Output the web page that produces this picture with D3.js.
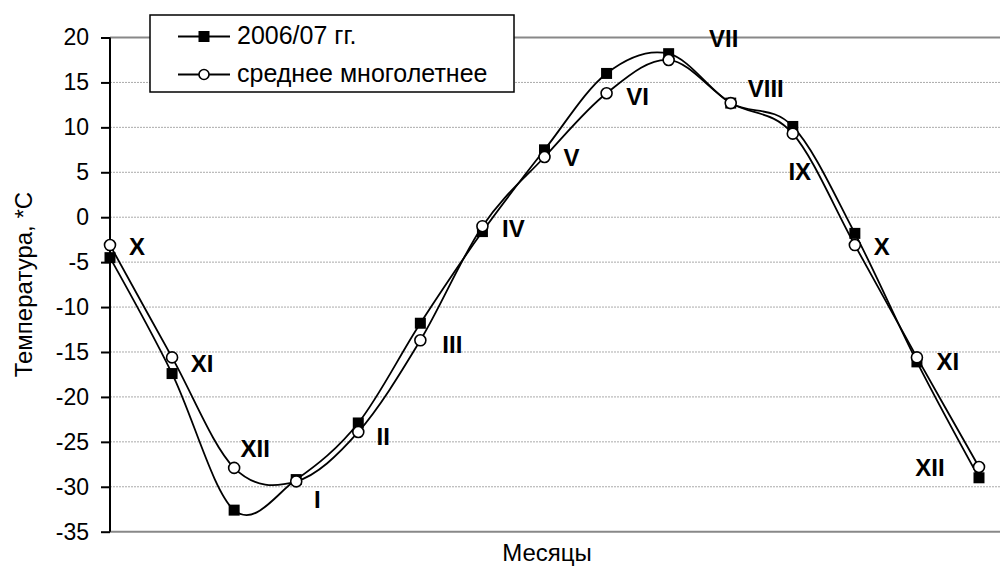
<!DOCTYPE html>
<html>
<head>
<meta charset="utf-8">
<script src="https://cdn.jsdelivr.net/npm/d3@7"></script>
<style>
  body { margin: 0; background: #fff; }
  svg { display: block; font-family: Arial, "Liberation Sans", sans-serif; }
</style>
</head>
<body>
<svg id="chart" width="1000" height="569"></svg>
<script>
// months (hydrological year, Oct -> Dec of next year)
const months = ['X', 'XI', 'XII', 'I', 'II', 'III', 'IV', 'V', 'VI', 'VII', 'VIII', 'IX', 'X', 'XI', 'XII'];
const temp2006 = [-4.5, -17.4, -32.6, -29.2, -22.9, -11.8, -1.6, 7.5, 16.0, 18.2, 12.7, 10.1, -1.8, -16.1, -29.0];
const tempMean = [-3.1, -15.6, -27.9, -29.4, -23.9, -13.7, -1.0, 6.7, 13.8, 17.5, 12.7, 9.3, -3.1, -15.6, -27.8];
const yTicks = [20, 15, 10, 5, 0, -5, -10, -15, -20, -25, -30, -35];
const seriesNames = ['2006/07 гг.', 'среднее многолетнее'];

// label offsets (px) from the mean-series point
const labelOffsets = [
  [27, 2], [30, 6], [21, -19], [21, 18], [25, 5], [32, 4], [31, 2], [27, 1],
  [31, 3], [55, -21], [35, -14], [7, 38], [27, 2], [31, 4], [-49, 1]
];

const svg = d3.select('#chart');

const plot = { left: 110, right: 1000, top: 37.5, bottom: 531.7 };

const x = d3.scalePoint()
  .domain(d3.range(months.length))
  .range([plot.left, 979]);

const y = d3.scaleLinear()
  .domain([-35, 20])
  .range([plot.bottom, plot.top]);

// grid
const isEdge = d => d === 20 || d === -35;
svg.append('g')
  .selectAll('line')
  .data(yTicks)
  .join('line')
  .attr('x1', plot.left)
  .attr('x2', plot.right)
  .attr('y1', d => y(d))
  .attr('y2', d => y(d))
  .attr('stroke', d => isEdge(d) ? '#888' : '#aaa')
  .attr('stroke-width', d => isEdge(d) ? 2 : 1)
  .attr('stroke-dasharray', d => isEdge(d) ? null : '2,1');

// Y axis
const yAxis = svg.append('g')
  .attr('transform', `translate(${plot.left},0)`)
  .call(d3.axisLeft(y).tickValues(yTicks).tickSize(9).tickPadding(12).tickFormat(d3.format('d')));
yAxis.select('.domain').attr('stroke', '#000').attr('stroke-width', 2)
  .attr('d', `M0,${plot.top}V${plot.bottom}`);
yAxis.selectAll('.tick line').attr('stroke', '#000').attr('stroke-width', 2);
yAxis.selectAll('.tick text')
  .style('font-size', '23px')
  .attr('fill', '#000')
  .text(d => d < 0 ? '-' + Math.abs(d) : d);

// axis titles
svg.append('text')
  .attr('transform', `translate(32,${(plot.top + plot.bottom) / 2}) rotate(-90)`)
  .attr('text-anchor', 'middle')
  .style('font-size', '24px')
  .text('Температура, *С');

svg.append('text')
  .attr('x', 547)
  .attr('y', 561)
  .attr('text-anchor', 'middle')
  .style('font-size', '24px')
  .text('Месяцы');

// lines
const line = d3.line()
  .x((d, i) => x(i))
  .y(d => y(d))
  .curve(d3.curveCardinal.tension(0));

[temp2006, tempMean].forEach(series => {
  svg.append('path')
    .datum(series)
    .attr('d', line)
    .attr('fill', 'none')
    .attr('stroke', '#000')
    .attr('stroke-width', 1.8);
});

// markers
svg.append('g')
  .selectAll('rect')
  .data(temp2006)
  .join('rect')
  .attr('x', (d, i) => x(i) - 5.5)
  .attr('y', d => y(d) - 5.5)
  .attr('width', 11)
  .attr('height', 11)
  .attr('fill', '#000');

svg.append('g')
  .selectAll('circle')
  .data(tempMean)
  .join('circle')
  .attr('cx', (d, i) => x(i))
  .attr('cy', d => y(d))
  .attr('r', 5.5)
  .attr('fill', '#fff')
  .attr('stroke', '#000')
  .attr('stroke-width', 1.6);

// month labels
svg.append('g')
  .selectAll('text')
  .data(months)
  .join('text')
  .attr('x', (d, i) => x(i) + labelOffsets[i][0])
  .attr('y', (d, i) => y(tempMean[i]) + labelOffsets[i][1])
  .attr('dy', '0.35em')
  .attr('text-anchor', 'middle')
  .style('font-size', '24px')
  .style('font-weight', 'bold')
  .text(d => d);

// legend
const legend = svg.append('g');
legend.append('rect')
  .attr('x', 150)
  .attr('y', 15)
  .attr('width', 364)
  .attr('height', 77)
  .attr('fill', '#fff')
  .attr('stroke', '#000')
  .attr('stroke-width', 1.5);

seriesNames.forEach((name, i) => {
  const ly = 36.5 + i * 38;
  legend.append('line')
    .attr('x1', 178).attr('x2', 230)
    .attr('y1', ly).attr('y2', ly)
    .attr('stroke', '#000').attr('stroke-width', 1.8);
  if (i === 0) {
    legend.append('rect')
      .attr('x', 198.5).attr('y', ly - 5.5)
      .attr('width', 11).attr('height', 11)
      .attr('fill', '#000');
  } else {
    legend.append('circle')
      .attr('cx', 204).attr('cy', ly).attr('r', 5)
      .attr('fill', '#fff').attr('stroke', '#000').attr('stroke-width', 1.6);
  }
  legend.append('text')
    .attr('x', 237)
    .attr('y', ly)
    .attr('dy', '0.3em')
    .style('font-size', '25px')
    .text(name);
});
</script>
</body>
</html>
